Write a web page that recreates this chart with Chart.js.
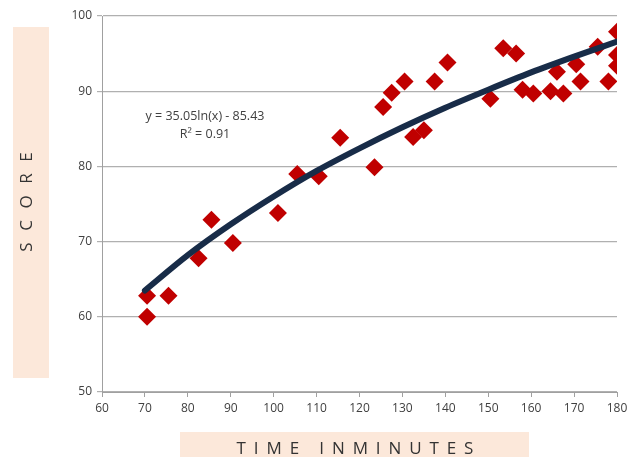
<!DOCTYPE html>
<html>
<head>
<meta charset="utf-8">
<script src="https://cdn.jsdelivr.net/npm/chart.js@4.4.1/dist/chart.umd.min.js"></script>
<style>
  body { margin: 0; background: #fff; }
  #wrap { position: relative; width: 627px; height: 457px; }
</style>
</head>
<body>
<div id="wrap"><canvas id="chart" width="627" height="457"></canvas></div>
<script>
// scores vs. time
const timeMinutes = [70.5, 70.5, 75.5, 82.5, 85.5, 90.5, 101, 105.5, 110.5, 115.5,
    123.5, 125.5, 127.5, 130.5, 132.5, 135, 137.5, 140.5, 150.5, 153.5,
    156.5, 158, 160.5, 164.5, 166, 167.5, 170.5, 171.5, 175.5, 178,
    180, 180, 180];
const scores = [60, 62.8, 62.8, 67.8, 72.9, 69.8, 73.8, 79, 78.7, 83.8,
    79.9, 87.9, 89.8, 91.3, 83.9, 84.8, 91.3, 93.8, 89, 95.7,
    95, 90.2, 89.7, 90, 92.6, 89.7, 93.6, 91.3, 95.9, 91.3,
    97.9, 94.8, 93.4];

// log trendline, read at every 10 minutes
const trendX = [70, 80, 90, 100, 110, 120, 130, 140, 150, 160, 170, 180];
const trendY = [63.5, 68.2, 72.3, 76.0, 79.4, 82.4, 85.2, 87.8, 90.2, 92.5, 94.6, 96.6];

const equationLines = ['y = 35.05ln(x) - 85.43', 'R\u00B2 = 0.91'];
const xTitle = 'TIME INMINUTES';
const yTitle = 'SCORE';

const tickFont = { family: 'Open Sans', size: 12 };

// spaced-out text, centred on cx
function spacedText(ctx, text, cx, cy, spacing) {
    ctx.letterSpacing = '0px';
    const w = ctx.measureText(text).width + spacing * (text.length - 1);
    ctx.letterSpacing = spacing + 'px';
    ctx.textAlign = 'left';
    ctx.fillText(text, cx - w / 2, cy);
    ctx.letterSpacing = '0px';
}

// peach boxes + axis titles + equation
const decorPlugin = {
    id: 'decor',
    beforeDraw(chart) {
        const ctx = chart.ctx;
        ctx.save();
        ctx.fillStyle = '#fce8da';
        ctx.fillRect(13, 27, 36, 351);
        ctx.fillRect(180, 432, 349, 25);

        ctx.fillStyle = '#333';
        ctx.font = '17px "Open Sans"';
        ctx.textBaseline = 'alphabetic';
        spacedText(ctx, xTitle, 355, 454, 7.9);

        ctx.translate(27, 202);
        ctx.rotate(-Math.PI / 2);
        ctx.textBaseline = 'middle';
        spacedText(ctx, yTitle, 0, 0, 11.6);
        ctx.restore();
    },
    afterDatasetsDraw(chart) {
        const ctx = chart.ctx;
        const xs = chart.scales.x, ys = chart.scales.y;
        ctx.save();
        ctx.font = '12.5px "Open Sans"';
        ctx.fillStyle = '#404040';
        ctx.textAlign = 'center';
        ctx.textBaseline = 'middle';
        ctx.fillText(equationLines[0], xs.getPixelForValue(84), ys.getPixelForValue(86.6));
        ctx.fillText(equationLines[1], xs.getPixelForValue(84), ys.getPixelForValue(84.3));
        ctx.restore();
    }
};

new Chart(document.getElementById('chart'), {
    type: 'scatter',
    data: {
        datasets: [
            {
                label: 'Trend',
                data: trendX.map((x, i) => ({ x: x, y: trendY[i] })),
                showLine: true,
                borderColor: '#182c48',
                borderWidth: 6,
                borderCapStyle: 'round',
                cubicInterpolationMode: 'monotone',
                pointRadius: 0,
                pointHoverRadius: 0
            },
            {
                label: 'Score',
                data: timeMinutes.map((x, i) => ({ x: x, y: scores[i] })),
                pointStyle: 'rectRot',
                pointRadius: 9,
                pointHoverRadius: 9,
                backgroundColor: '#c00000',
                borderWidth: 0
            }
        ]
    },
    options: {
        responsive: false,
        animation: false,
        layout: { padding: { top: 16, right: 10, left: 0, bottom: 0 } },
        plugins: {
            legend: { display: false },
            tooltip: { enabled: false }
        },
        scales: {
            x: {
                type: 'linear',
                min: 60,
                max: 180,
                ticks: { stepSize: 10, color: '#404040', font: tickFont, padding: 4, maxRotation: 0 },
                grid: { drawOnChartArea: false, tickLength: 5, color: '#a0a0a0' },
                border: { color: '#a0a0a0' },
                afterFit(scale) {
                    scale.height = 65;
                    scale.paddingLeft = 0;
                    scale.paddingRight = 0;
                }
            },
            y: {
                min: 50,
                max: 100,
                ticks: { stepSize: 10, color: '#404040', font: tickFont, padding: 5 },
                grid: { color: '#b0b0b0', tickLength: 5, lineWidth: 1.2 },
                border: { color: '#a0a0a0' },
                afterFit(scale) {
                    scale.width = 102;
                    scale.paddingTop = 0;
                    scale.paddingBottom = 0;
                }
            }
        }
    },
    plugins: [decorPlugin]
});
</script>
</body>
</html>
